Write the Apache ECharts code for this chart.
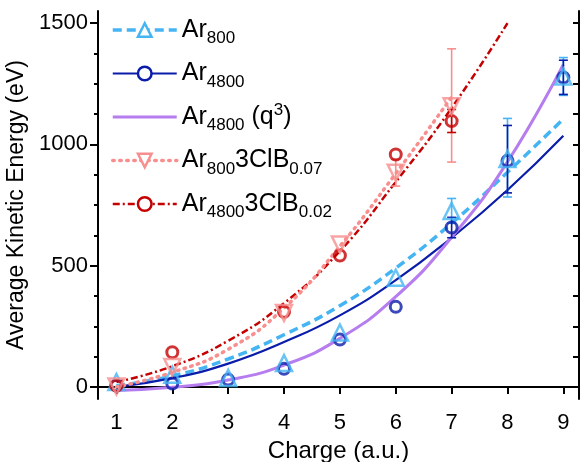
<!DOCTYPE html>
<html>
<head>
<meta charset="utf-8">
<script src="https://cdn.jsdelivr.net/npm/echarts@6/dist/echarts.min.js"></script>
<style>
html, body { margin: 0; padding: 0; background: #fff; }
#chart { width: 581px; height: 462px; }
</style>
</head>
<body>
<div id="chart"></div>
<script>
var charges = [1, 2, 3, 4, 5, 6, 7, 8, 9];
var ar800 = [20, 50, 37, 98, 224, 450, 725, 940, 1280];
var ar4800 = [5, 14, 30, 75, 195, 330, 657, 932, 1276];
var clbCharges = [1, 2, 4, 5, 6, 7];
var ar800clb = [2, 82, 305, 587, 883, 1157];
var ar4800clb = [5, 143, 310, 542, 958, 1096];

// error bars: [charge, low, high]
var ar800Err = [[7, 675, 777], [8, 783, 1107], [9, 1202, 1358]];
var ar4800Err = [[7, 615, 699], [8, 800, 1078], [9, 1206, 1347]];
var ar800clbErr = [[6, 828, 938], [7, 927, 1394]];
var ar4800clbErr = [[7, 1049, 1144]];

// fitted curves
var fitX = [1, 2, 3, 4, 5, 6, 7, 8, 9];
var fitAr800 = [5, 45, 115, 215, 335, 490, 675, 885, 1105];
var fitAr4800 = [0, 36, 96, 185, 295, 440, 615, 812, 1036];
var fitQ3 = [-15, -2, 28, 90, 200, 372, 617, 928, 1330];
var fitX7 = [1, 2, 3, 4, 5, 6, 7];
var fitAr800clb = [0, 60, 155, 325, 580, 880, 1195];
var fitX8 = [1, 2, 3, 4, 5, 6, 7, 8];
var fitAr4800clb = [20, 85, 190, 345, 560, 845, 1150, 1500];

var xTicks = [1, 2, 3, 4, 5, 6, 7, 8, 9];
var yTicks = [0, 500, 1000, 1500];
var yMinor = [125, 250, 375, 625, 750, 875, 1125, 1250, 1375];
var yAllTicks = [0, 125, 250, 375, 500, 625, 750, 875, 1000, 1125, 1250, 1375, 1500];

var names = ['Ar800', 'Ar4800', 'Ar4800 (q3)', 'Ar800 3ClB0.07', 'Ar4800 3ClB0.02'];
var labels = {
    'Ar800': '{m|Ar}{s|800}',
    'Ar4800': '{m|Ar}{s|4800}',
    'Ar4800 (q3)': '{m|Ar}{s|4800}{m| (q}{p|3}{m|)}',
    'Ar800 3ClB0.07': '{m|Ar}{s|800}{m|3ClB}{s|0.07}',
    'Ar4800 3ClB0.02': '{m|Ar}{s|4800}{m|3ClB}{s|0.02}'
};

var cLight = '#45B4F2';
var cDark = '#0A1CAA';
var cPurple = '#B67DEE';
var cPink = '#F88E8E';
var cRed = '#C40000';
var font = 'Liberation Sans, Arial, sans-serif';

function pairs(xs, ys) {
    var out = [];
    for (var i = 0; i < xs.length; i++) {
        out.push([xs[i], ys[i]]);
    }
    return out;
}

function errorBar(params, api) {
    var hi = api.coord([api.value(0), api.value(2)]);
    var lo = api.coord([api.value(0), api.value(1)]);
    var w = 4.5;
    var style = { stroke: api.visual('color'), lineWidth: 1.6 };
    return {
        type: 'group',
        children: [
            { type: 'line', shape: { x1: hi[0], y1: hi[1], x2: lo[0], y2: lo[1] }, style: style },
            { type: 'line', shape: { x1: hi[0] - w, y1: hi[1], x2: hi[0] + w, y2: hi[1] }, style: style },
            { type: 'line', shape: { x1: lo[0] - w, y1: lo[1], x2: lo[0] + w, y2: lo[1] }, style: style }
        ]
    };
}

function errSeries(data, color) {
    return {
        type: 'custom',
        renderItem: errorBar,
        itemStyle: { color: color },
        encode: { x: 0, y: [1, 2] },
        data: data,
        z: 3
    };
}

function fitSeries(name, xs, ys, color, width, type, cap, symbol, rotate) {
    return {
        name: name,
        type: 'line',
        data: pairs(xs, ys),
        smooth: true,
        showSymbol: false,
        symbol: symbol,
        symbolRotate: rotate || 0,
        color: color,
        lineStyle: { color: color, width: width, type: type, cap: cap },
        itemStyle: { color: '#fff', borderColor: color, borderWidth: 2.5 },
        z: 2
    };
}

function pointSeries(xs, ys, color, symbol, size, rotate) {
    return {
        type: 'scatter',
        data: pairs(xs, ys),
        symbol: symbol,
        symbolSize: size,
        symbolRotate: rotate || 0,
        itemStyle: { color: 'rgba(255,255,255,0)', borderColor: color, borderWidth: symbol === 'circle' ? 3 : 2.5 },
        z: 4
    };
}

var legendStyles = [
    { color: cLight, width: 3.5, type: [9, 5], cap: 'butt' },
    { color: cDark, width: 2.2, type: 'solid', cap: 'butt' },
    { color: cPurple, width: 3, type: 'solid', cap: 'butt' },
    { color: cPink, width: 3.5, type: [1.5, 5.5], cap: 'round' },
    { color: cRed, width: 2.5, type: [7, 3, 2, 3], cap: 'butt' }
];

var legendData = names.map(function (n, i) {
    var s = legendStyles[i];
    var item = {
        name: n,
        lineStyle: { color: s.color, width: s.width, type: s.type, cap: s.cap },
        itemStyle: { color: '#fff', borderColor: s.color, borderWidth: 2.5 }
    };
    if (i === 2) {
        item.icon = 'path://M0,0L64,0L64,3L0,3Z';
        item.itemStyle = { color: s.color, borderWidth: 0 };
    }
    return item;
});

var chart = echarts.init(document.getElementById('chart'));
chart.setOption({
    animation: false,
    grid: { left: 98, right: 2, top: 11, bottom: 63, outerBoundsMode: 'none' },
    legend: {
        orient: 'vertical',
        left: 111,
        top: 13,
        padding: 0,
        itemWidth: 64,
        itemHeight: 17,
        itemGap: 9.5,
        data: legendData,
        formatter: function (name) { return labels[name]; },
        textStyle: {
            color: '#000',
            fontFamily: font,
            rich: {
                m: { fontSize: 25, lineHeight: 30, fontFamily: font, color: '#000' },
                s: { fontSize: 17, lineHeight: 17, padding: [17, 0, 0, 0], fontFamily: font, color: '#000' },
                p: { fontSize: 17, lineHeight: 17, padding: [0, 0, 14, 0], fontFamily: font, color: '#000' }
            }
        }
    },
    xAxis: [
        {
            type: 'value', position: 'bottom', min: 0.67, max: 9.28,
            name: 'Charge (a.u.)', nameLocation: 'middle', nameGap: 40,
            nameTextStyle: { fontSize: 24, fontFamily: font, color: '#000' },
            axisLine: { lineStyle: { color: '#000', width: 2 } },
            axisTick: { customValues: xTicks, length: 7, lineStyle: { color: '#000', width: 2 } },
            axisLabel: { customValues: xTicks, fontSize: 22, fontFamily: font, color: '#000', margin: 13 },
            splitLine: { show: false }
        },
        {
            type: 'value', position: 'top', min: 0.67, max: 9.28,
            axisLine: { lineStyle: { color: '#000', width: 2 } },
            axisTick: { customValues: xTicks, inside: true, length: 7, lineStyle: { color: '#000', width: 2 } },
            axisLabel: { show: false },
            splitLine: { show: false }
        }
    ],
    yAxis: [
        {
            type: 'value', position: 'left', min: -50, max: 1550,
            name: 'Average Kinetic Energy (eV)', nameLocation: 'middle', nameGap: 64,
            nameTextStyle: { fontSize: 23, fontFamily: font, color: '#000' },
            axisLine: { show: true, lineStyle: { color: '#000', width: 2 } },
            axisTick: { show: true, customValues: yTicks, length: 8, lineStyle: { color: '#000', width: 2 } },
            axisLabel: {
                customValues: yTicks, fontSize: 22, fontFamily: font, color: '#000', margin: 10,
                formatter: function (v) { return String(v); }
            },
            splitLine: { show: false }
        },
        {
            type: 'value', position: 'left', min: -50, max: 1550,
            axisLine: { show: false },
            axisTick: { show: true, customValues: yMinor, length: 4, lineStyle: { color: '#000', width: 2 } },
            axisLabel: { show: false },
            splitLine: { show: false }
        },
        {
            type: 'value', position: 'right', min: -50, max: 1550,
            axisLine: { show: true, lineStyle: { color: '#000', width: 2 } },
            axisTick: { show: true, inside: true, customValues: yAllTicks, length: 6, lineStyle: { color: '#000', width: 2 } },
            axisLabel: { show: false },
            splitLine: { show: false }
        }
    ],
    series: [
        fitSeries(names[0], fitX, fitAr800, cLight, 3.5, [9, 5], 'butt', 'triangle'),
        fitSeries(names[1], fitX, fitAr4800, cDark, 2.2, 'solid', 'butt', 'circle'),
        fitSeries(names[2], fitX, fitQ3, cPurple, 3, 'solid', 'butt', 'none'),
        fitSeries(names[4], fitX8, fitAr4800clb, cRed, 2.5, [7, 3, 2, 3], 'butt', 'circle'),
        fitSeries(names[3], fitX7, fitAr800clb, cPink, 3.5, [1.5, 5.5], 'round', 'triangle', 180),
        errSeries(ar800Err, cLight),
        errSeries(ar4800Err, cDark),
        errSeries(ar800clbErr, cPink),
        errSeries(ar4800clbErr, cRed),
        pointSeries(charges, ar4800, cDark, 'circle', 11),
        pointSeries(charges, ar800, cLight, 'triangle', 16),
        pointSeries(clbCharges, ar4800clb, cRed, 'circle', 11),
        pointSeries(clbCharges, ar800clb, cPink, 'triangle', 16, 180)
    ]
});
</script>
</body>
</html>
